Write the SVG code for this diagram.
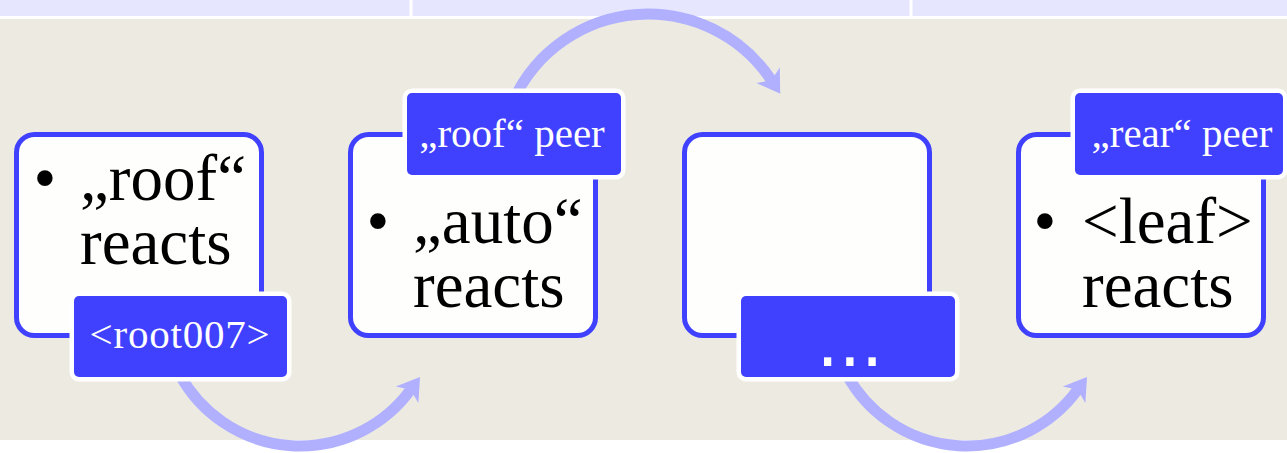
<svg xmlns="http://www.w3.org/2000/svg" width="1287" height="453" viewBox="0 0 1287 453">
  <style>
    .box { fill: #fefefc; stroke: #4040ff; stroke-width: 5; }
    .tag { fill: #4040ff; stroke: #ffffff; stroke-width: 9; paint-order: stroke; }
    .main { font-family: "Liberation Serif", serif; font-size: 65px; fill: #000000; }
    .bul { font-family: "Liberation Serif", serif; font-size: 65px; fill: #000000; text-anchor: middle; }
    .lbl { font-family: "Liberation Serif", serif; font-size: 41px; fill: #ffffff; text-anchor: middle; }
    .dots { font-family: "DejaVu Sans", sans-serif; font-size: 70px; fill: #ffffff; text-anchor: middle; }
    .arc { fill: none; stroke: #b0b0ff; stroke-width: 11; marker-end: url(#head); }
  </style>
  <defs>
    <marker id="head" markerUnits="userSpaceOnUse" viewBox="-10 -20 40 40" markerWidth="40" markerHeight="40" refX="0" refY="0" orient="auto" overflow="visible">
      <path d="M -6 -14 L 16 0 L -6 14 L 0 0 Z" fill="#b0b0ff"/>
    </marker>
  </defs>

  <!-- background -->
  <rect x="0" y="0" width="1287" height="453" fill="#ffffff"/>
  <rect x="0" y="0" width="1287" height="16" fill="#e6e6fe"/>
  <rect x="409.5" y="0" width="3" height="16" fill="#ffffff"/>
  <rect x="909.5" y="0" width="3" height="16" fill="#ffffff"/>
  <rect x="0" y="19" width="1287" height="421" fill="#edebe1"/>

  <g id="connectors">
    <path class="arc" d="M 180 375 A 137 137 0 0 0 410.6 389.8"/>
    <path class="arc" d="M 513.6 100 A 148 148 0 0 1 771.4 80.3"/>
    <path class="arc" d="M 847 375 A 137 137 0 0 0 1077.6 389.8"/>
  </g>

  <g id="node1">
    <rect class="box" x="16.5" y="134.5" width="245" height="201" rx="18"/>
    <text class="bul" x="45" y="200">•</text>
    <text class="main" x="80" y="200">„roof“<tspan x="80" dy="64">reacts</tspan></text>
  </g>
  <g id="tag1">
    <rect class="tag" x="74" y="296" width="213" height="81" rx="5"/>
    <text class="lbl" x="180" y="348" letter-spacing="0.8">&lt;root007&gt;</text>
  </g>

  <g id="node2">
    <rect class="box" x="350.5" y="134.5" width="245" height="201" rx="18"/>
    <text class="bul" x="378" y="243">•</text>
    <text class="main" x="413" y="243">„auto“<tspan x="413" dy="64">reacts</tspan></text>
  </g>
  <g id="tag2">
    <rect class="tag" x="407" y="93" width="214" height="82" rx="5"/>
    <text class="lbl" x="512" y="147">„roof“ peer</text>
  </g>

  <g id="node3">
    <rect class="box" x="684.5" y="134.5" width="245" height="201" rx="18"/>
  </g>
  <g id="tag3">
    <rect class="tag" x="741" y="296" width="214" height="81" rx="5"/>
    <text class="dots" x="850" y="366">...</text>
  </g>

  <g id="node4">
    <rect class="box" x="1018.5" y="134.5" width="245" height="201" rx="18"/>
    <text class="bul" x="1045" y="243">•</text>
    <text class="main" x="1082" y="243">&lt;leaf&gt;<tspan x="1082" dy="64">reacts</tspan></text>
  </g>
  <g id="tag4">
    <rect class="tag" x="1075" y="93" width="208" height="82" rx="5"/>
    <text class="lbl" x="1182" y="147">„rear“ peer</text>
  </g>
</svg>
